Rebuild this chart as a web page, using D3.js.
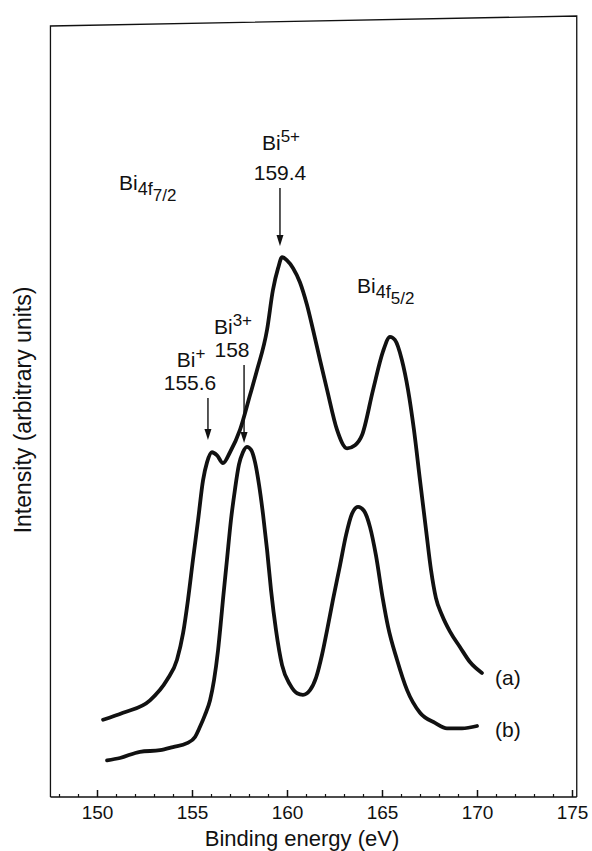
<!DOCTYPE html>
<html>
<head>
<meta charset="utf-8">
<script src="https://cdn.jsdelivr.net/npm/d3@7/dist/d3.min.js"></script>
<style>
  body { margin: 0; background: #fff; }
  svg { display: block; font-family: "Liberation Sans", Arial, sans-serif; }
</style>
</head>
<body>
<svg id="chart" width="592" height="851"></svg>
<script>
// binding energy (eV) / intensity (arbitrary units)
const energyA = [150.32, 151.37, 152.79, 153.68, 154.21, 154.53, 154.79, 155.05, 155.32, 155.58, 155.79, 156.05, 156.32, 156.63, 157.0, 157.53, 158.05, 158.42, 158.95, 159.26, 159.53, 159.74, 160.0, 160.32, 160.68, 161.05, 161.37, 161.74, 162.11, 162.63, 163.16, 163.58, 163.95, 164.53, 165.05, 165.42, 165.68, 166.05, 166.37, 166.68, 167.0, 167.32, 167.58, 167.84, 168.16, 168.58, 169.11, 169.63, 170.26];
const intensityA = [9.9, 10.8, 12.4, 15.0, 17.6, 21.0, 25.3, 30.4, 35.5, 40.6, 42.9, 44.2, 43.8, 42.8, 44.2, 47.1, 51.5, 54.7, 59.9, 65.0, 67.8, 69.2, 68.8, 67.8, 66.0, 63.1, 59.9, 56.0, 52.2, 47.1, 44.7, 45.1, 46.4, 52.2, 57.1, 59.0, 58.6, 56.0, 52.2, 47.1, 40.6, 34.2, 29.1, 25.5, 23.3, 21.2, 19.2, 17.3, 15.9];

const energyB = [150.53, 151.21, 152.26, 153.32, 154.0, 154.74, 155.16, 155.42, 155.68, 155.95, 156.16, 156.37, 156.53, 156.63, 156.84, 157.05, 157.26, 157.47, 157.68, 157.89, 158.11, 158.32, 158.53, 158.74, 158.95, 159.16, 159.42, 159.74, 160.16, 160.53, 160.84, 161.21, 161.53, 161.84, 162.11, 162.42, 162.79, 163.11, 163.42, 163.74, 164.05, 164.37, 164.68, 165.05, 165.32, 165.79, 166.32, 167.0, 167.79, 168.42, 169.21, 170.0];
const intensityB = [4.7, 5.0, 5.8, 6.0, 6.4, 6.9, 7.7, 9.0, 10.5, 12.4, 15.0, 18.8, 22.7, 25.3, 30.4, 35.5, 39.4, 42.6, 44.2, 44.9, 44.5, 42.9, 40.0, 36.2, 31.7, 26.5, 21.4, 16.9, 14.4, 13.3, 13.1, 13.7, 15.3, 18.2, 21.4, 25.3, 29.7, 33.6, 36.3, 37.2, 36.7, 34.6, 31.0, 25.3, 21.8, 17.6, 13.7, 10.8, 9.5, 8.8, 8.8, 9.1];

const majorTicks = [150, 155, 160, 165, 170, 175];
const minorTicks = [148, 149, 151, 152, 153, 154, 156, 157, 158, 159, 161, 162, 163, 164, 166, 167, 168, 169, 171, 172, 173, 174];

const ink = "#111";
const svg = d3.select("#chart");
const x = d3.scaleLinear().domain([150, 175]).range([97, 572]);
const y = d3.scaleLinear().domain([0, 100]).range([797, 17]);

// frame (top edge slightly skewed like the scan)
const left = x(147.55), right = x(175.25), bottom = y(0);
svg.append("path")
  .attr("d", `M${left},${bottom}V26L${right},16V${bottom}`)
  .attr("fill", "none").attr("stroke", ink).attr("stroke-width", 1.3);
svg.append("line")
  .attr("x1", left).attr("x2", right).attr("y1", bottom).attr("y2", bottom)
  .attr("stroke", ink).attr("stroke-width", 1.5);

const xAxis = svg.append("g").attr("transform", `translate(0,${bottom})`)
  .call(d3.axisBottom(x).tickValues(majorTicks).tickSize(-7).tickPadding(9).tickFormat(d3.format("d")));
xAxis.select(".domain").remove();
xAxis.selectAll("line").attr("stroke", ink).attr("stroke-width", 1.5);
xAxis.selectAll("text").attr("fill", ink).style("font-size", "19px").style("font-family", "Liberation Sans, Arial, sans-serif");

const xMinor = svg.append("g").attr("transform", `translate(0,${bottom})`)
  .call(d3.axisBottom(x).tickValues(minorTicks).tickSize(-3).tickFormat(""));
xMinor.select(".domain").remove();
xMinor.selectAll("line").attr("stroke", ink).attr("stroke-width", 1.2);

svg.append("text")
  .attr("x", 302).attr("y", 846).attr("text-anchor", "middle")
  .attr("fill", ink).style("font-size", "22px")
  .text("Binding energy (eV)");

svg.append("text")
  .attr("transform", "translate(31,410) rotate(-90)")
  .attr("text-anchor", "middle").attr("fill", ink).style("font-size", "23px")
  .text("Intensity (arbitrary units)");

// spectra
const line = d3.line().x((d) => x(d[0])).y((d) => y(d[1])).curve(d3.curveMonotoneX);
[[energyA, intensityA], [energyB, intensityB]].forEach(([e, v]) => {
  svg.append("path")
    .attr("d", line(e.map((val, i) => [val, v[i]])))
    .attr("fill", "none").attr("stroke", ink)
    .attr("stroke-width", 3.8).attr("stroke-linecap", "round").attr("stroke-linejoin", "round");
});

// annotations
function arrow(ev, from, to) {
  const px = x(ev), y1 = y(from), y2 = y(to);
  svg.append("line").attr("x1", px).attr("x2", px).attr("y1", y1).attr("y2", y2 - 8)
    .attr("stroke", ink).attr("stroke-width", 1.4);
  svg.append("path").attr("d", `M${px - 3.5},${y2 - 11}L${px + 3.5},${y2 - 11}L${px},${y2}Z`).attr("fill", ink);
}

function label(px, py, parts, anchor) {
  const t = svg.append("text").attr("x", px).attr("y", py).attr("fill", ink)
    .attr("text-anchor", anchor || "start").style("font-size", "21px");
  parts.forEach((p) => {
    t.append("tspan").attr("dy", p.dy || 0).style("font-size", (p.size || 21) + "px").text(p.text);
  });
}

label(281, 150, [{ text: "Bi" }, { text: "5+", dy: -8, size: 17 }], "middle");
label(280, 180, [{ text: "159.4" }], "middle");
arrow(159.63, (797 - 188) / 7.8, (797 - 246) / 7.8);

label(119, 190, [{ text: "Bi" }, { text: "4f", dy: 5, size: 18 }, { text: "7/2", dy: 6, size: 17 }]);
label(357, 293, [{ text: "Bi" }, { text: "4f", dy: 5, size: 18 }, { text: "5/2", dy: 6, size: 17 }]);

label(233, 334, [{ text: "Bi" }, { text: "3+", dy: -8, size: 17 }], "middle");
label(232, 357, [{ text: "158" }], "middle");
arrow(157.74, (797 - 365) / 7.8, (797 - 443) / 7.8);

label(191, 367, [{ text: "Bi" }, { text: "+", dy: -8, size: 17 }], "middle");
label(190, 390, [{ text: "155.6" }], "middle");
arrow(155.84, (797 - 398) / 7.8, (797 - 440) / 7.8);

label(495, 685, [{ text: "(a)" }]);
label(495, 737, [{ text: "(b)" }]);
</script>
</body>
</html>
